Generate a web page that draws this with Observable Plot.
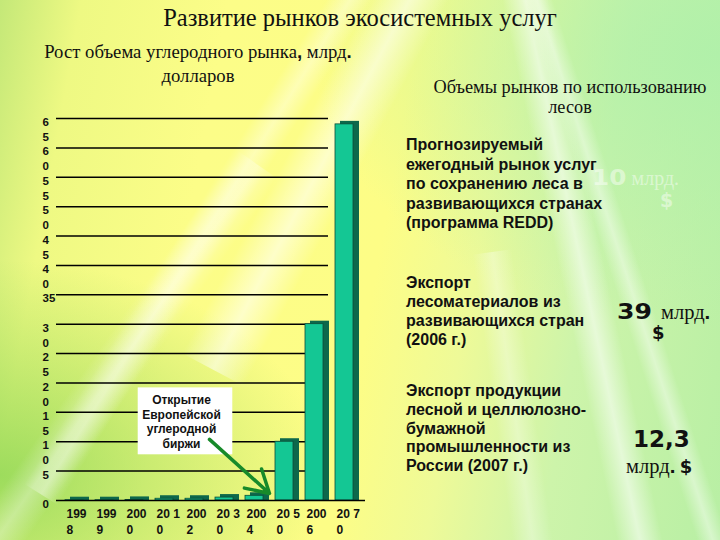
<!DOCTYPE html>
<html>
<head>
<meta charset="utf-8">
<script src="https://cdn.jsdelivr.net/npm/d3@7"></script>
<script src="https://cdn.jsdelivr.net/npm/@observablehq/plot@0.6"></script>
<style>
  html, body { margin: 0; padding: 0; }
  body {
    width: 720px; height: 540px; position: relative; overflow: hidden;
    background:
      radial-gradient(ellipse at 0% 88%, rgba(130,210,80,0.75), rgba(130,210,80,0) 32%),
      radial-gradient(ellipse at 100% 10%, rgba(175,240,170,0.9), rgba(175,240,170,0) 40%),
      linear-gradient(100deg, #c4e878 0%, #eef983 10%, #fcfd88 28%, #fdfd86 52%, #eefa98 64%, #cdf4aa 78%, #b8efa4 100%);
    font-family: "Liberation Sans", Arial, sans-serif;
  }
  .streak { position: absolute; pointer-events: none;
    background: linear-gradient(90deg, rgba(255,255,255,0), rgba(255,255,255,0.55), rgba(255,255,255,0)); }
  .serif { font-family: "Liberation Serif", "Times New Roman", serif; color: #111; }
  .bold { font-family: "Liberation Sans", Arial, sans-serif; font-weight: bold; color: #111; }
  .heavy { font-family: "DejaVu Sans", sans-serif; font-weight: bold; color: #111; }
  .abs { position: absolute; }
  .wide { display: inline-block; transform-origin: left center; }
  #chart { position: absolute; left: 0; top: 110px; }
</style>
</head>
<body>
<div class="streak" style="left:300px;top:-120px;width:70px;height:520px;transform:rotate(28deg);"></div>
<div class="streak" style="left:180px;top:-60px;width:40px;height:600px;transform:rotate(32deg);opacity:0.7"></div>
<div class="streak" style="left:90px;top:120px;width:50px;height:500px;transform:rotate(35deg);opacity:0.6"></div>
<div class="streak" style="left:560px;top:-40px;width:45px;height:620px;transform:rotate(-12deg);"></div>
<div class="streak" style="left:610px;top:-40px;width:30px;height:620px;transform:rotate(-18deg);opacity:0.8"></div>
<div class="streak" style="left:500px;top:250px;width:40px;height:400px;transform:rotate(-8deg);opacity:0.6"></div>

<div class="abs serif" style="left:0;top:3px;width:720px;text-align:center;font-size:24.5px;line-height:30px;">Развитие рынков экосистемных услуг</div>
<div class="abs serif" style="left:36px;top:40px;width:324px;text-align:center;font-size:18.7px;line-height:24px;">Рост объема углеродного рынка<b style="font-family:'Liberation Sans',Arial">,</b> млрд<b style="font-family:'Liberation Sans',Arial">.</b><br>долларов</div>
<div class="abs serif" style="left:420px;top:78px;width:300px;text-align:center;font-size:18.3px;line-height:19.5px;">Объемы рынков по использованию<br>лесов</div>

<div class="abs bold" style="left:406px;top:135px;font-size:16px;line-height:19.5px;">Прогнозируемый<br>ежегодный рынок услуг<br>по сохранению леса в<br>развивающихся странах<br>(программа REDD)</div>
<div class="abs bold" style="left:406px;top:273px;font-size:16px;line-height:19px;">Экспорт<br>лесоматериалов из<br>развивающихся стран<br>(2006 г.)</div>
<div class="abs bold" style="left:406px;top:382px;font-size:16px;line-height:18.8px;">Экспорт продукции<br>лесной и целлюлозно-<br>бумажной<br>промышленности из<br>России (2007 г.)</div>

<div class="abs" style="left:592px;top:164px;opacity:0.45;line-height:28px;white-space:nowrap;"><span class="heavy wide" style="color:#fff;font-size:22px;transform:scaleX(1.12);">10</span>&nbsp;&nbsp;<span class="serif" style="color:#fff;font-size:20px;">млрд.</span></div>
<div class="abs heavy" style="left:660px;top:189px;color:#fff;opacity:0.45;font-size:19px;">$</div>

<div class="abs" style="left:617px;top:298px;line-height:28px;white-space:nowrap;"><span class="heavy wide" style="font-size:22px;transform:scaleX(1.14);">39</span>&nbsp;&nbsp;&nbsp;<span class="serif" style="font-size:20.5px;">млрд<b style="font-family:'Liberation Sans',Arial">.</b></span></div>
<div class="abs heavy" style="left:652px;top:322px;font-size:18px;line-height:22px;">$</div>

<div class="abs heavy" style="left:633px;top:423px;font-size:23px;line-height:32px;white-space:nowrap;">12,3</div>
<div class="abs" style="left:626px;top:452px;line-height:28px;white-space:nowrap;"><span class="serif" style="font-size:20.5px;">млрд<b style="font-family:'Liberation Sans',Arial">.</b></span> <span class="heavy" style="font-size:18px;">$</span></div>

<div id="chart"></div>

<script>
const years = ["1998","1999","2000","2001","2002","2003","2004","2005","2006","2007"];
const values = [0.05, 0.05, 0.1, 0.3, 0.3, 0.5, 0.8, 10, 30, 64];
const yearLabels = ["199\n8","199\n9","200\n0","20 1\n0","200\n2","20 3\n0","200\n4","20 5\n0","200\n6","20 7\n0"];
const yTicks = [0,5,10,15,20,25,30,35,40,45,50,55,60,65];
const yTickLabels = ["0","5","1\n0","1\n5","2\n0","2\n5","3\n0","35","4\n0","4\n5","5\n0","5\n5","6\n0","6\n5"];
const noteText = "Открытие\nЕвропейской\nуглеродной\nбиржи";
const noteYear = "2002";
const noteValue = 13.5;
const arrowFrom = {year: "2002", value: 10.4};
const arrowTo = {year: "2004", value: 1.2};

const data = years.map((year, i) => ({year, value: values[i]}));

const chart = Plot.plot({
  width: 380,
  height: 430,
  marginLeft: 59,
  marginRight: 15,
  marginTop: 8,
  marginBottom: 40,
  style: {background: "transparent", overflow: "visible", fontFamily: "'Liberation Sans', Arial, sans-serif", fontWeight: "bold", fontSize: "11px", color: "#111"},
  x: {domain: years, paddingInner: 0.2, paddingOuter: 0.1, label: null},
  y: {domain: [0, 65], label: null},
  marks: [
    Plot.ruleY(yTicks.filter(d => d > 0), {stroke: "#000", strokeWidth: 1.5, insetLeft: -3, insetRight: 37}),
    Plot.barY(data, {x: "year", y: "value", fill: "#0d684b", insetLeft: 5, insetTop: -3}),
    Plot.barY(data, {x: "year", y: "value", fill: "#14c794", stroke: "#0a4d37", strokeWidth: 0.8, insetRight: 6}),
    Plot.ruleY([0], {stroke: "#000", strokeWidth: 1.5, insetLeft: -3}),
    Plot.axisY({ticks: yTicks, tickFormat: d => yTickLabels[yTicks.indexOf(d)], tickSize: 0, tickPadding: 3, textAnchor: "start", dx: -14, lineAnchor: "top", dy: -3, lineHeight: 1.3, fontSize: 11.5, fontWeight: "bold", fill: "#111"}),
    Plot.axisX({tickSize: 0, tickPadding: 6, tickFormat: d => yearLabels[years.indexOf(d)], textAnchor: "start", dx: -11, lineAnchor: "top", lineHeight: 1.35, fontSize: 12, fontWeight: "bold", fill: "#111"}),
    Plot.text([noteText], {x: () => noteYear, y: () => noteValue, text: d => d, dx: -16, fontSize: 12, fontWeight: "bold", lineHeight: 1.22, fill: "#111"}),
    Plot.arrow([arrowFrom], {x1: d => d.year, y1: d => d.value, x2: () => arrowTo.year, y2: () => arrowTo.value, dx: 12, stroke: "#178a2a", strokeWidth: 3.5, headLength: 11})
  ]
});

document.getElementById("chart").append(chart);

// white box behind the annotation text
const noteG = d3.select(chart).select('g[aria-label="text"]');
if (!noteG.empty()) {
  const bb = noteG.node().getBBox();
  d3.select(chart).insert("rect", 'g[aria-label="text"]')
    .attr("x", bb.x - 8).attr("y", bb.y - 5)
    .attr("width", bb.width + 16).attr("height", bb.height + 9)
    .attr("fill", "#fff");
}
</script>
</body>
</html>
